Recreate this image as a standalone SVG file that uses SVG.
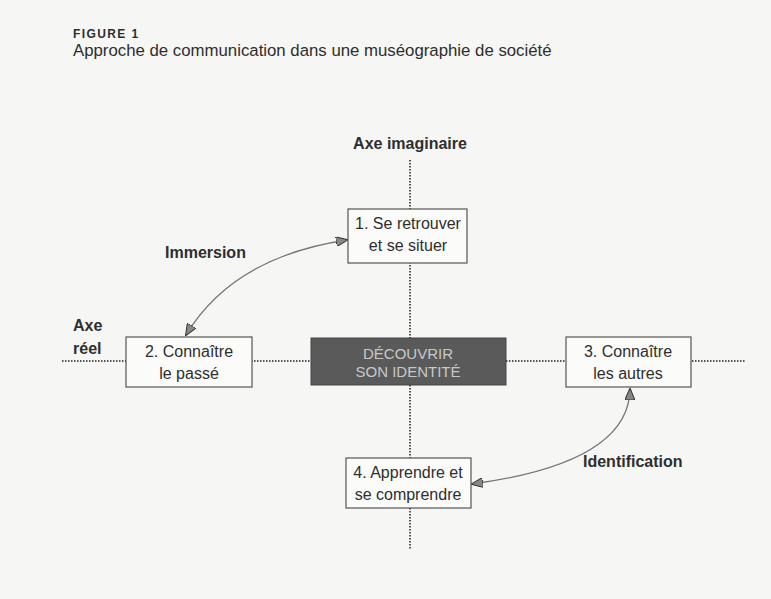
<svg xmlns="http://www.w3.org/2000/svg" width="771" height="599" viewBox="0 0 771 599">
<defs>
<style>
.t{font-family:"Liberation Sans",Arial,sans-serif;fill:#2e2e2e}
.b{font-weight:bold;font-size:16px}
.box{fill:#fbfbfa;stroke:#555;stroke-width:1.2}
.lbl{font-size:16px;text-anchor:middle}
.axis{stroke:#555;stroke-width:2;stroke-dasharray:1.5 1.5;fill:none}
.arc{stroke:#777;stroke-width:1.3;fill:none}
.ctr{font-family:"Liberation Sans",Arial,sans-serif;font-size:15px;text-anchor:middle;fill:#c8c8c8}
</style>
<marker id="ah" viewBox="0 0 12 10" refX="11" refY="5" markerWidth="12" markerHeight="10" markerUnits="userSpaceOnUse" orient="auto-start-reverse">
<path d="M0,0 L12,5 L0,10 Z" fill="#888" stroke="#333" stroke-width="1"/>
</marker>
</defs>
<rect width="771" height="599" fill="#f6f6f4"/>
<text class="t" x="73" y="38" font-size="12" font-weight="bold" letter-spacing="1.4">FIGURE 1</text>
<text class="t" x="73" y="56" font-size="16.8">Approche de communication dans une muséographie de société</text>
<text class="t b" x="410" y="149" text-anchor="middle">Axe imaginaire</text>
<text class="t b" x="73" y="331">Axe</text>
<text class="t b" x="73" y="354">réel</text>
<text class="t b" x="165" y="258">Immersion</text>
<text class="t b" x="583" y="467">Identification</text>
<g id="connectors">
<line class="axis" x1="410" y1="160" x2="410" y2="550"/>
<line class="axis" x1="62" y1="361" x2="745" y2="361"/>
<path class="arc" d="M186,335 Q233,257 347,240" marker-start="url(#ah)" marker-end="url(#ah)"/>
<path class="arc" d="M630,389 Q629,463 472,484" marker-start="url(#ah)" marker-end="url(#ah)"/>
</g>
<g id="node1">
<rect class="box" x="348" y="209" width="119" height="54"/>
<text class="t lbl" x="408" y="229">1. Se retrouver</text>
<text class="t lbl" x="408" y="251">et se situer</text>
</g>
<g id="node2">
<rect class="box" x="126" y="337" width="126" height="50"/>
<text class="t lbl" x="189" y="357">2. Connaître</text>
<text class="t lbl" x="189" y="379">le passé</text>
</g>
<g id="center">
<rect x="311" y="338" width="195" height="47" fill="#5a5a5a" stroke="#444" stroke-width="1"/>
<text class="ctr" x="408" y="359">DÉCOUVRIR</text>
<text class="ctr" x="408" y="377">SON IDENTITÉ</text>
</g>
<g id="node3">
<rect class="box" x="566" y="337" width="125" height="50"/>
<text class="t lbl" x="628" y="357">3. Connaître</text>
<text class="t lbl" x="628" y="379">les autres</text>
</g>
<g id="node4">
<rect class="box" x="346" y="458" width="125" height="50"/>
<text class="t lbl" x="408" y="478">4. Apprendre et</text>
<text class="t lbl" x="408" y="500">se comprendre</text>
</g>
</svg>
